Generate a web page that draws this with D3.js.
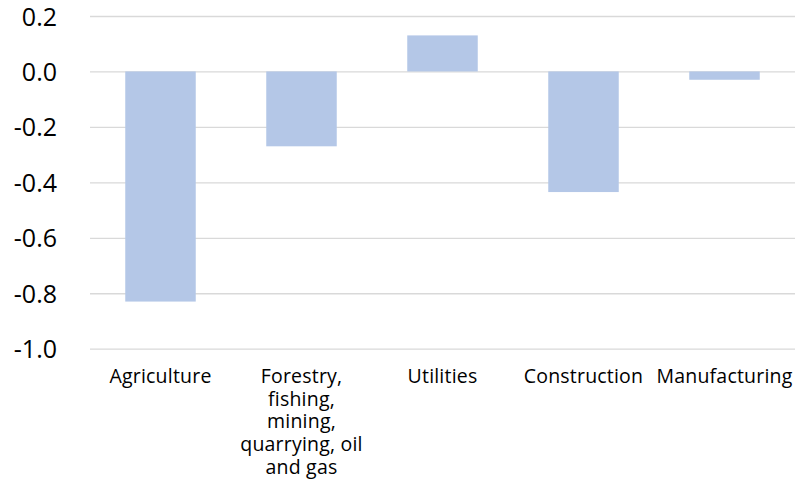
<!DOCTYPE html>
<html>
<head>
<meta charset="utf-8">
<script src="https://cdn.jsdelivr.net/npm/d3@7"></script>
<style>
  body { margin: 0; background: #fff; }
  svg text { font-family: "Open Sans", sans-serif; fill: #000; }
</style>
</head>
<body>
<svg id="chart"></svg>
<script>
// data
const categories = [
    'Agriculture',
    'Forestry, fishing, mining, quarrying, oil and gas',
    'Utilities',
    'Construction',
    'Manufacturing'
];
const categoryLines = [
    ['Agriculture'],
    ['Forestry,', 'fishing,', 'mining,', 'quarrying, oil', 'and gas'],
    ['Utilities'],
    ['Construction'],
    ['Manufacturing']
];
const values = [-0.83, -0.27, 0.13, -0.435, -0.03];
const yTicks = [0.2, 0.0, -0.2, -0.4, -0.6, -0.8, -1.0];

const width = 798, height = 481;
const margin = { top: 16, right: 3, bottom: 132, left: 90 };

const svg = d3.select('#chart')
    .attr('width', width)
    .attr('height', height);

const x = d3.scaleBand()
    .domain(categories)
    .range([margin.left, width - margin.right])
    .paddingInner(0.5)
    .paddingOuter(0.25);

const y = d3.scaleLinear()
    .domain([-1.0, 0.2])
    .range([height - margin.bottom - 0.3, margin.top]);

const fmt = d => d3.format('.1f')(d).replace('\u2212', '-');

// gridlines
const yAxis = d3.axisLeft(y)
    .tickValues(yTicks)
    .tickSize(-(width - margin.right - margin.left))
    .tickPadding(33)
    .tickFormat(fmt);

const gy = svg.append('g')
    .attr('transform', 'translate(' + margin.left + ',0)')
    .call(yAxis);
gy.select('.domain').remove();
gy.selectAll('.tick line')
    .attr('stroke', '#d9d9d9')
    .attr('stroke-width', 1.3);
gy.selectAll('.tick text')
    .attr('font-size', 25)
    .attr('dy', '0.36em');

// bars
svg.append('g')
    .selectAll('rect')
    .data(values)
    .enter()
    .append('rect')
    .attr('x', (d, i) => x(categories[i]))
    .attr('width', x.bandwidth())
    .attr('y', d => y(Math.max(0, d)))
    .attr('height', d => Math.abs(y(d) - y(0)))
    .attr('fill', '#b4c7e7');

// category labels
const labels = svg.append('g')
    .selectAll('text')
    .data(categories)
    .enter()
    .append('text')
    .attr('text-anchor', 'middle')
    .attr('font-size', 19.5)
    .attr('letter-spacing', 0.2)
    .attr('x', d => x(d) + x.bandwidth() / 2)
    .attr('y', 383);

labels.selectAll('tspan')
    .data((d, i) => categoryLines[i])
    .enter()
    .append('tspan')
    .attr('x', function () { return d3.select(this.parentNode).attr('x'); })
    .attr('dy', (d, i) => i === 0 ? 0 : 22.7)
    .text(d => d);
</script>
</body>
</html>
